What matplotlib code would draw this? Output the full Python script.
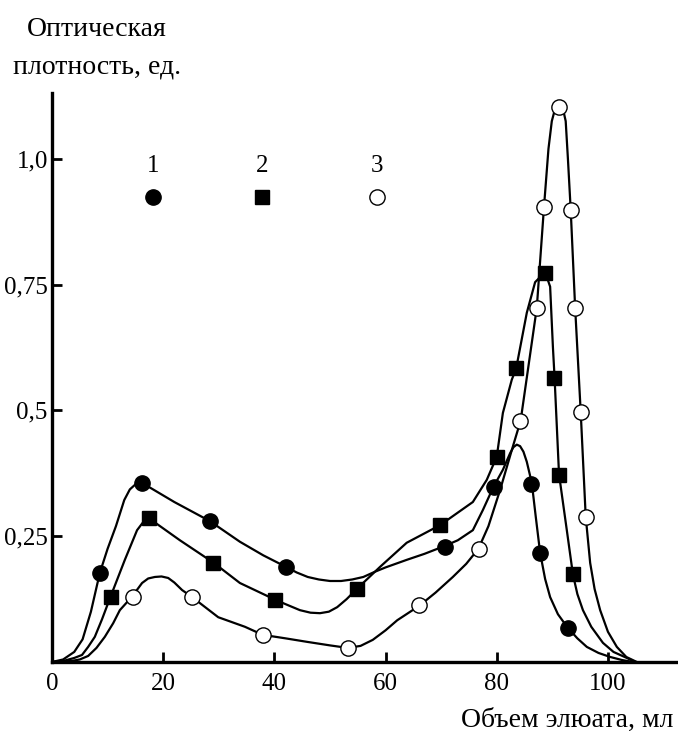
"""
Elution profiles: optical density vs eluate volume
"""
import matplotlib
matplotlib.use('Agg')
import matplotlib.pyplot as plt

# traced curves (volume, density)
curve1_x = [0, 2.0, 4.0, 5.5, 7.0, 8.6, 10.0, 11.5, 13.0, 14.0, 15.0, 16.2, 22.0, 28.4,
            33.8, 38.0, 42.1, 44.0, 46.0, 48.0, 50.0, 52.0, 54.0, 56.0, 58.0, 60.0, 63.8,
            67.0, 70.5, 73.0, 75.7, 77.5, 79.4, 81.1, 82.4, 83.0, 83.6, 84.2, 84.8, 85.4,
            86.3, 87.0, 87.8, 88.7, 89.6, 91.0, 92.7, 94.5, 96.2, 98.3, 100.4, 102.5, 104.5]
curve1_y = [0, 0.005, 0.02, 0.045, 0.10, 0.177, 0.225, 0.27, 0.322, 0.343, 0.353, 0.356,
            0.318, 0.280, 0.239, 0.212, 0.189, 0.178, 0.169, 0.164, 0.161, 0.161, 0.164,
            0.169, 0.179, 0.188, 0.203, 0.215, 0.230, 0.242, 0.262, 0.302, 0.348, 0.382,
            0.415, 0.427, 0.432, 0.429, 0.418, 0.398, 0.356, 0.29, 0.217, 0.165, 0.129,
            0.095, 0.069, 0.047, 0.03, 0.018, 0.01, 0.004, 0]

curve2_x = [0, 2.0, 4.0, 5.4, 6.5, 7.7, 9.0, 10.5, 13.1, 15.3, 16.4, 17.4, 23.0, 29.1,
            33.8, 40.1, 42.0, 44.6, 46.5, 48.2, 49.8, 51.3, 53.0, 54.9, 57.0, 59.0, 63.8,
            69.8, 75.7, 78.2, 80.0, 81.1, 82.7, 83.5, 85.4, 86.9, 88.7, 89.6, 90.1, 90.4,
            91.2, 92.6, 93.7, 94.5, 95.5, 97.0, 99.1, 101.0, 103.4, 104.9]
curve2_y = [0, 0.002, 0.008, 0.014, 0.03, 0.05, 0.085, 0.129, 0.203, 0.262, 0.278, 0.286,
            0.242, 0.197, 0.157, 0.124, 0.115, 0.103, 0.098, 0.097, 0.10, 0.109, 0.125,
            0.146, 0.168, 0.189, 0.237, 0.272, 0.318, 0.362, 0.408, 0.495, 0.561, 0.584,
            0.694, 0.755, 0.775, 0.746, 0.626, 0.565, 0.373, 0.262, 0.174, 0.135, 0.103,
            0.07, 0.038, 0.02, 0.008, 0]

curve3_x = [0, 3.5, 5.0, 6.5, 8.0, 9.5, 11.0, 12.2, 14.4, 16.2, 17.3, 18.5, 19.7, 20.9,
            22.0, 23.4, 25.2, 29.9, 34.7, 37.9, 42.0, 45.9, 50.0, 53.2, 55.5, 57.7, 60.0,
            62.1, 66.1, 69.0, 72.1, 74.5, 76.7, 78.5, 80.6, 82.7, 84.3, 87.2, 88.5, 89.3,
            89.9, 90.5, 91.2, 91.9, 92.4, 92.8, 93.3, 94.1, 95.1, 96.0, 96.8, 97.6, 98.6,
            100.0, 101.6, 103.3, 105.2]
curve3_y = [0, 0.002, 0.005, 0.012, 0.028, 0.05, 0.077, 0.103, 0.130, 0.157, 0.166, 0.169,
            0.17, 0.167, 0.158, 0.143, 0.129, 0.089, 0.07, 0.054, 0.047, 0.040, 0.033,
            0.028, 0.032, 0.044, 0.063, 0.083, 0.112, 0.138, 0.169, 0.195, 0.225, 0.27,
            0.342, 0.421, 0.480, 0.704, 0.905, 1.02, 1.075, 1.10, 1.107, 1.10, 1.075, 1.0,
            0.899, 0.704, 0.497, 0.289, 0.197, 0.145, 0.103, 0.06, 0.03, 0.01, 0]

# experimental points
pts1_x = [8.6, 16.2, 28.4, 42.1, 70.7, 79.5, 86.2, 87.8, 92.8]
pts1_y = [0.177, 0.356, 0.280, 0.189, 0.229, 0.348, 0.354, 0.216, 0.068]

pts2_x = [10.6, 17.4, 29.0, 40.1, 54.9, 69.8, 80.0, 83.5, 88.7, 90.3, 91.2, 93.7]
pts2_y = [0.129, 0.286, 0.197, 0.123, 0.145, 0.272, 0.408, 0.584, 0.773, 0.565, 0.372, 0.175]

pts3_x = [14.5, 25.2, 37.9, 53.3, 66.0, 76.8, 84.2, 87.3, 88.5, 91.2, 93.3, 94.1, 95.1, 96.0]
pts3_y = [0.130, 0.129, 0.053, 0.027, 0.113, 0.225, 0.480, 0.703, 0.905, 1.104, 0.898,
          0.703, 0.497, 0.289]

x_ticks = [0, 20, 40, 60, 80, 100]
y_ticks = [0.25, 0.5, 0.75, 1.0]
y_labels = ['0,25', '0,5', '0,75', '1,0']

legend_labels = ['1', '2', '3']
legend_x = [18.2, 37.8, 58.5]

plt.rcParams['font.family'] = ['Liberation Serif', 'DejaVu Serif']

fig = plt.figure(figsize=(6.78, 7.31), dpi=100)
ax = fig.add_axes([0.0767, 0.0944, 0.9233, 0.7784])

lw = 1.6
for cx, cy in [(curve1_x, curve1_y), (curve2_x, curve2_y), (curve3_x, curve3_y)]:
    ax.plot(cx, cy, color='black', linewidth=lw, zorder=2, solid_joinstyle='round')

ax.plot(pts1_x, pts1_y, 'o', color='black', markersize=11, linestyle='none', zorder=3)
ax.plot(pts2_x, pts2_y, 's', color='black', markersize=10, linestyle='none', zorder=3)
ax.plot(pts3_x, pts3_y, 'o', markerfacecolor='white', markeredgecolor='black',
        markeredgewidth=1.0, markersize=11, linestyle='none', zorder=4)

# legend drawn inside the plot
styles = [dict(marker='o', color='black', markersize=11),
          dict(marker='s', color='black', markersize=10),
          dict(marker='o', markerfacecolor='white', markeredgecolor='black',
               markeredgewidth=1.0, markersize=11)]
for lx, lab, st in zip(legend_x, legend_labels, styles):
    ax.text(lx, 0.986, lab, ha='center', va='center', fontsize=18)
    ax.plot([lx], [0.924], linestyle='none', **st)

ax.set_xlim(0, 112.6)
ax.set_ylim(0, 1.131)
ax.set_xticks(x_ticks)
ax.set_xticklabels([str(v) for v in x_ticks])
ax.set_yticks(y_ticks)
ax.set_yticklabels(y_labels)
ax.tick_params(direction='in', length=7, width=2, labelsize=18)
ax.tick_params(axis='x', pad=8)
ax.tick_params(axis='y', pad=3)

for side in ['top', 'right']:
    ax.spines[side].set_visible(False)
for side in ['left', 'bottom']:
    ax.spines[side].set_linewidth(2.4)

fig.text(97 / 678, 1 - 30 / 731, 'Оптическая', ha='center', va='center', fontsize=20)
fig.text(97 / 678, 1 - 67 / 731, 'плотность, ед.', ha='center', va='center', fontsize=20)
fig.text(0.993, 1 - 720 / 731, 'Объем элюата, мл', ha='right', va='center', fontsize=20)

plt.savefig('out.png', dpi=100)
